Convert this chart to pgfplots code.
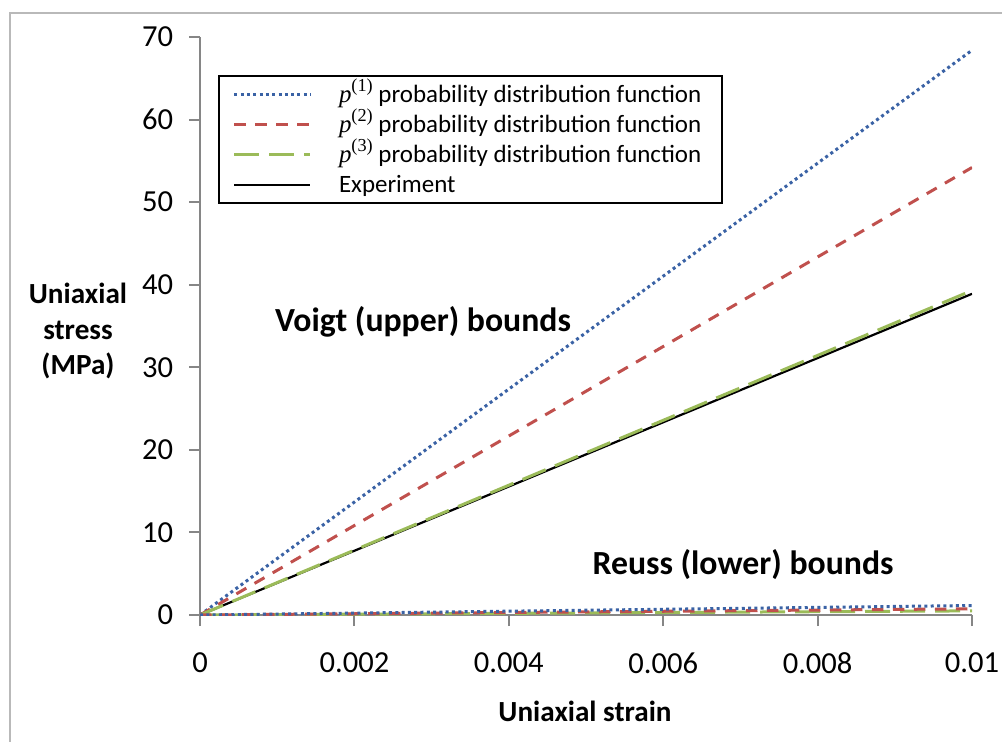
\documentclass[border=0pt]{standalone}
\usepackage{pgfplots}
\pgfplotsset{compat=1.18}
\usepackage{fontspec}
\setmainfont{Carlito}
\newfontfamily\tnr{Liberation Serif}

\definecolor{pblue}{RGB}{58,98,165}
\definecolor{pred}{RGB}{192,80,77}
\definecolor{pgreen}{RGB}{155,187,89}
\definecolor{axgray}{RGB}{134,134,134}

\newcommand{\pp}[1]{{\tnr\itshape p}\raisebox{0.9ex}{\tnr\fontsize{5.2}{6}\selectfont(#1)}}

\pgfplotsset{
  p1style/.style={color=pblue, line width=0.3mm, dash pattern=on 0.3mm off 0.33mm},
  p2style/.style={color=pred, line width=0.3mm, dash pattern=on 1.15mm off 0.95mm},
  p3style/.style={color=pgreen, line width=0.3mm, dash pattern=on 2.5mm off 1mm},
  expstyle/.style={color=black, line width=0.22mm},
}

\begin{document}
\fontsize{8.7}{10.4}\selectfont
\begin{tikzpicture}[x=0.1mm,y=0.1mm]
\useasboundingbox (0,0) rectangle (1002,741);
\draw[color=gray!55, line width=0.2mm] (10,-30) rectangle (1040,728);

\begin{axis}[
    at={(20mm,12.6mm)}, anchor=south west,
    scale only axis, width=77.2mm, height=57.8mm,
    xmin=0, xmax=0.01, ymin=0, ymax=70,
    axis x line*=bottom, axis y line*=left,
    axis line style={color=axgray, line width=0.2mm},
    tick style={color=axgray, line width=0.2mm},
    tick align=outside,
    major tick length=1.1mm,
    xtick={0,0.002,0.004,0.006,0.008,0.01},
    xticklabels={0,0.002,0.004,0.006,0.008,0.01},
    ytick={0,10,20,30,40,50,60,70},
    scaled x ticks=false,
    /pgf/number format/assume math mode=true,
    ticklabel style={font=\fontsize{8.7}{10.4}\selectfont},
    xticklabel style={yshift=-1.6mm},
    yticklabel style={xshift=-0.5mm},
    legend style={at={(0.0233,0.934)}, anchor=north west,
      draw=black, line width=0.2mm,
      font=\fontsize{7.1}{8.5}\selectfont,
      inner xsep=1.4mm, inner ysep=0.35mm,
      row sep=0mm,
      nodes={inner ysep=0.2mm, text height=2.1mm, text depth=0.5mm}},
    legend cell align=left,
    legend image code/.code={\draw[#1] (0mm,0mm) -- (7.6mm,0mm); \path (9.6mm,0mm);},
]

% Voigt (upper) bounds
\addplot[p1style] coordinates {
(0,0)(0.001,6.84)(0.002,13.68)(0.003,20.52)(0.004,27.36)(0.005,34.2)
(0.006,41.04)(0.007,47.88)(0.008,54.72)(0.009,61.56)(0.01,68.4)};
\addlegendentry{\pp{1} probability distribution function}

\addplot[p2style] coordinates {
(0,0)(0.001,5.42)(0.002,10.84)(0.003,16.26)(0.004,21.68)(0.005,27.10)
(0.006,32.52)(0.007,37.94)(0.008,43.36)(0.009,48.78)(0.01,54.2)};
\addlegendentry{\pp{2} probability distribution function}

\addplot[expstyle, forget plot] coordinates {
(0,0)(0.001,3.89)(0.002,7.78)(0.003,11.67)(0.004,15.56)(0.005,19.45)
(0.006,23.34)(0.007,27.23)(0.008,31.12)(0.009,35.01)(0.01,38.9)};

\addplot[p3style] coordinates {
(0,0)(0.001,3.93)(0.002,7.86)(0.003,11.79)(0.004,15.72)(0.005,19.65)
(0.006,23.58)(0.007,27.51)(0.008,31.44)(0.009,35.37)(0.01,39.3)};
\addlegendentry{\pp{3} probability distribution function}

\addlegendimage{expstyle}
\addlegendentry{Experiment}

% Reuss (lower) bounds
\addplot[p3style, forget plot] coordinates {(0,0)(0.005,0.25)(0.01,0.5)};
\addplot[p2style, forget plot] coordinates {(0,0)(0.005,0.38)(0.01,0.75)};
\addplot[p1style, forget plot] coordinates {(0,0)(0.005,0.58)(0.01,1.15)};
\end{axis}

\node[font=\bfseries\fontsize{8.3}{10.2}\selectfont, align=center] at (78,410) {Uniaxial\\stress\\(MPa)};
\node[font=\bfseries\fontsize{8.3}{10}\selectfont] at (585,30) {Uniaxial strain};
\node[font=\bfseries\fontsize{9.6}{11}\selectfont] at (423,419) {Voigt (upper) bounds};
\node[font=\bfseries\fontsize{9.6}{11}\selectfont] at (743,176) {Reuss (lower) bounds};
\end{tikzpicture}
\end{document}
